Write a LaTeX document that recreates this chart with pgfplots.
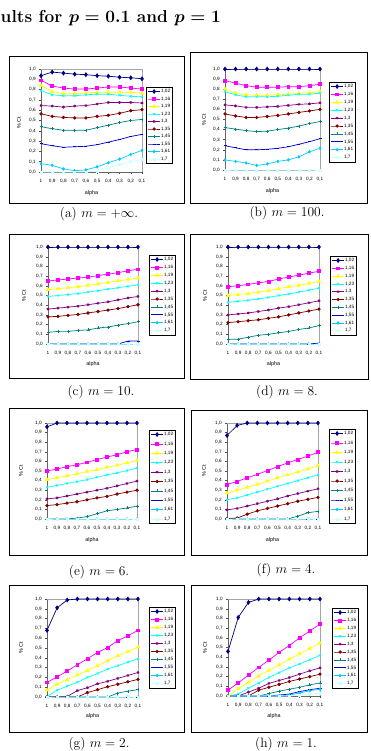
\RequirePackage{fix-cm}
\documentclass[border=0pt]{standalone}
\usepackage{fontspec}
\usepackage{pgfplots}
\usepackage{pgfplotstable}
\pgfplotsset{compat=1.18}
\newfontfamily\xlfont{Liberation Sans}
\newcommand\xlsmall{\xlfont\fontsize{4.7}{5.5}\selectfont}
\newcommand\xllabel{\xlfont\fontsize{5.4}{6}\selectfont}

% series colours (spreadsheet default palette)
\definecolor{s1}{HTML}{000080}
\definecolor{s2}{HTML}{FF00FF}
\definecolor{s3}{HTML}{FFFF00}
\definecolor{s4}{HTML}{00FFFF}
\definecolor{s5}{HTML}{800080}
\definecolor{s6}{HTML}{800000}
\definecolor{s7}{HTML}{008080}
\definecolor{s8}{HTML}{0000CC}
\definecolor{s9}{HTML}{00CCFF}
\definecolor{s10}{HTML}{CCFFFF}

% share of C_t for alpha = 1, 0.9, ..., 0.1 (rows) and each threshold (columns)
\pgfplotstableread{
i s1    s2    s3    s4    s5    s6    s7    s8    s9    s10
0 0.935 0.89  0.84  0.79  0.645 0.565 0.44  0.275 0.08  0.00
1 0.970 0.835 0.78  0.75  0.64  0.54  0.42  0.255 0.065 0.00
2 0.960 0.815 0.76  0.74  0.63  0.53  0.405 0.24  0.03  0.00
3 0.950 0.805 0.76  0.74  0.64  0.525 0.405 0.245 0.013 0.00
4 0.945 0.805 0.765 0.75  0.645 0.525 0.405 0.25  0.02  0.00
5 0.935 0.815 0.775 0.755 0.66  0.54  0.43  0.265 0.05  0.01
6 0.930 0.825 0.775 0.755 0.675 0.55  0.455 0.29  0.09  0.04
7 0.920 0.825 0.775 0.745 0.675 0.57  0.48  0.315 0.125 0.07
8 0.915 0.815 0.775 0.735 0.675 0.595 0.50  0.345 0.17  0.10
9 0.905 0.805 0.765 0.73  0.67  0.605 0.51  0.365 0.21  0.12
}\tabA
\pgfplotstableread{
i s1 s2    s3    s4    s5    s6    s7    s8    s9    s10
0 1  0.885 0.80  0.775 0.645 0.555 0.42  0.24  0.10  0
1 1  0.86  0.76  0.745 0.635 0.535 0.405 0.22  0.085 0
2 1  0.835 0.745 0.725 0.62  0.52  0.39  0.20  0.07  0
3 1  0.82  0.74  0.725 0.62  0.52  0.38  0.20  0.045 0
4 1  0.82  0.74  0.725 0.625 0.53  0.385 0.205 0.06  0
5 1  0.82  0.745 0.73  0.63  0.54  0.40  0.215 0.085 0
6 1  0.825 0.75  0.74  0.64  0.555 0.415 0.23  0.10  0
7 1  0.825 0.76  0.75  0.65  0.57  0.435 0.255 0.13  0
8 1  0.835 0.765 0.75  0.655 0.585 0.46  0.28  0.18  0
9 1  0.85  0.775 0.76  0.665 0.60  0.48  0.31  0.215 0
}\tabB
\pgfplotstableread{
i s1 s2    s3    s4    s5    s6    s7    s8   s9 s10
0 1  0.65  0.56  0.49  0.36  0.28  0.12  0    0  0
1 1  0.66  0.57  0.50  0.37  0.285 0.13  0    0  0
2 1  0.67  0.58  0.51  0.38  0.295 0.13  0    0  0
3 1  0.68  0.59  0.52  0.39  0.305 0.14  0    0  0
4 1  0.69  0.605 0.535 0.405 0.32  0.145 0    0  0
5 1  0.705 0.62  0.55  0.42  0.335 0.165 0    0  0
6 1  0.72  0.635 0.565 0.435 0.35  0.175 0    0  0
7 1  0.735 0.65  0.58  0.455 0.365 0.195 0    0  0
8 1  0.755 0.665 0.595 0.475 0.385 0.21  0.03 0  0
9 1  0.77  0.68  0.61  0.49  0.405 0.23  0.03 0  0
}\tabC
\pgfplotstableread{
i s1 s2    s3    s4    s5    s6    s7    s8   s9 s10
0 1  0.59  0.50  0.43  0.30  0.22  0.05  0    0  0
1 1  0.60  0.51  0.44  0.31  0.23  0.05  0    0  0
2 1  0.615 0.52  0.45  0.32  0.24  0.07  0    0  0
3 1  0.63  0.535 0.465 0.335 0.25  0.09  0    0  0
4 1  0.645 0.55  0.48  0.35  0.265 0.10  0    0  0
5 1  0.67  0.57  0.50  0.37  0.28  0.115 0    0  0
6 1  0.69  0.59  0.515 0.385 0.30  0.13  0    0  0
7 1  0.71  0.605 0.535 0.405 0.32  0.15  0    0  0
8 1  0.73  0.625 0.555 0.425 0.34  0.165 0    0  0
9 1  0.75  0.645 0.575 0.445 0.36  0.19  0.01 0  0
}\tabD
\pgfplotstableread{
i s1   s2    s3    s4    s5    s6    s7    s8 s9 s10
0 0.96 0.50  0.41  0.33  0.21  0.14  0     0  0  0
1 1    0.52  0.43  0.35  0.22  0.15  0     0  0  0
2 1    0.545 0.45  0.37  0.24  0.165 0     0  0  0
3 1    0.565 0.47  0.39  0.26  0.18  0.01  0  0  0
4 1    0.59  0.495 0.41  0.28  0.20  0.025 0  0  0
5 1    0.62  0.515 0.435 0.30  0.22  0.055 0  0  0
6 1    0.645 0.54  0.46  0.32  0.235 0.085 0  0  0
7 1    0.67  0.56  0.48  0.345 0.26  0.10  0  0  0
8 1    0.70  0.585 0.505 0.37  0.28  0.115 0  0  0
9 1    0.725 0.61  0.53  0.395 0.30  0.135 0  0  0
}\tabE
\pgfplotstableread{
i s1    s2    s3    s4    s5    s6    s7    s8 s9 s10
0 0.87  0.36  0.27  0.20  0.095 0.005 0     0  0  0
1 0.975 0.39  0.30  0.22  0.11  0.01  0     0  0  0
2 1     0.43  0.33  0.25  0.135 0.05  0     0  0  0
3 1     0.465 0.36  0.28  0.16  0.085 0     0  0  0
4 1     0.505 0.395 0.31  0.185 0.11  0     0  0  0
5 1     0.545 0.43  0.34  0.21  0.135 0     0  0  0
6 1     0.585 0.46  0.37  0.24  0.16  0     0  0  0
7 1     0.62  0.49  0.40  0.265 0.185 0.03  0  0  0
8 1     0.655 0.52  0.43  0.29  0.205 0.065 0  0  0
9 1     0.695 0.555 0.46  0.315 0.225 0.08  0  0  0
}\tabF
\pgfplotstableread{
i s1   s2    s3    s4    s5    s6    s7    s8 s9 s10
0 0.68 0.15  0.07  0.005 0     0     0     0  0  0
1 0.91 0.205 0.13  0.07  0     0     0     0  0  0
2 0.99 0.265 0.175 0.11  0.005 0     0     0  0  0
3 1    0.33  0.225 0.15  0.065 0     0     0  0  0
4 1    0.39  0.27  0.20  0.095 0.045 0     0  0  0
5 1    0.455 0.32  0.24  0.135 0.075 0     0  0  0
6 1    0.505 0.37  0.285 0.16  0.105 0     0  0  0
7 1    0.575 0.42  0.32  0.19  0.13  0.04  0  0  0
8 1    0.625 0.465 0.355 0.22  0.155 0.06  0  0  0
9 1    0.68  0.51  0.39  0.25  0.18  0.075 0  0  0
}\tabG
\pgfplotstableread{
i s1    s2    s3    s4    s5    s6    s7    s8    s9    s10
0 0.46  0.06  0     0     0     0     0     0     0     0
1 0.81  0.135 0.075 0.02  0     0     0     0     0     0
2 0.965 0.215 0.14  0.08  0.04  0     0     0     0     0
3 1     0.295 0.205 0.135 0.08  0.06  0     0     0     0
4 1     0.37  0.265 0.19  0.13  0.09  0.025 0     0     0
5 1     0.45  0.32  0.24  0.16  0.12  0.05  0.01  0     0
6 1     0.52  0.38  0.29  0.19  0.15  0.07  0.02  0.01  0
7 1     0.60  0.435 0.33  0.225 0.175 0.09  0.045 0.03  0.01
8 1     0.67  0.49  0.375 0.26  0.20  0.115 0.065 0.055 0.02
9 1     0.74  0.545 0.42  0.29  0.225 0.135 0.08  0.07  0.03
}\tabH

\pgfplotscreateplotcyclelist{xl}{
  {s1, mark=diamond*, mark size=1.9pt},
  {s2, mark=square*, mark size=1.45pt},
  {s3, mark=triangle*, mark size=1.8pt},
  {s4, mark=x, mark size=1.4pt},
  {s5, mark=asterisk, mark size=1.4pt},
  {s6, mark=*, mark size=1.3pt},
  {s7, mark=+, mark size=1.5pt},
  {s8, mark=-, mark size=1.5pt},
  {s9, mark=diamond*, mark size=1.3pt},
  {s10, mark=square*, mark size=1.0pt}%
}

\pgfplotsset{
  xlpanel/.style={
    scale only axis, anchor=south west, clip=false,
    xmin=0, xmax=9, ymin=0, ymax=1,
    axis x line*=bottom, axis y line*=left,
    axis line style={black!60, line width=0.5pt, -},
    xtick={0,1,2,3,4,5,6,7,8,9},
    xticklabels={1,{0,9},{0,8},{0,7},{0,6},{0,5},{0,4},{0,3},{0,2},{0,1}},
    ytick={0,0.1,0.2,0.3,0.4,0.5,0.6,0.7,0.8,0.9,1},
    yticklabels={{0,0},{0,1},{0,2},{0,3},{0,4},{0,5},{0,6},{0,7},{0,8},{0,9},{1,0}},
    tick align=outside, major tick length=2pt,
    tick style={black!70, line width=0.4pt},
    ticklabel style={font=\xlsmall},
    xticklabel style={yshift=-1.5pt},
    yticklabel style={xshift=0.3pt},
    cycle list name=xl,
    every axis plot/.append style={line width=0.7pt},
    every mark/.append style={solid},
    legend image code/.code={%
      \draw[mark repeat=2, mark phase=2, ##1] plot coordinates {(0pt,0pt) (6pt,0pt) (12pt,0pt)};},
    legend style={at={(1,1)}, anchor=north west, font=\xlsmall,
      draw=black, line width=0.5pt, inner sep=1.5pt,
      cells={anchor=west},
      nodes={inner sep=0.6pt, text height=3.4pt, text depth=0.9pt}},
    legend entries={{1,02},{1,16},{1,19},{1,23},{1,3},{1,35},{1,45},{1,55},{1,61},{1,7}},
  }
}

% #1 left, #2 bottom, #3 width, #4 height of the plot area;
% #5, #6 legend offset from the plot's top right corner; #7 legend row gap; #8 data
\newcommand\xlchart[8]{%
  \begin{axis}[xlpanel, at={(#1pt,-#2pt)}, width=#3pt, height=#4pt,
      legend style={xshift=#5pt, yshift=-#6pt, row sep=#7pt}]
    \draw[gray!70, line width=0.4pt] (rel axis cs:0,1) -- (rel axis cs:1,1) -- (rel axis cs:1,0);
    \pgfplotsinvokeforeach{1,...,10}{%
      \addplot table[x index=0, y index=##1] {#8};}
  \end{axis}}

\tikzset{
  panelframe/.style={draw=black, line width=0.7pt},
  ylab/.style={rotate=90, font=\xllabel, inner sep=0pt},
  xlab/.style={font=\xllabel, inner sep=0pt},
  subcap/.style={anchor=base, inner sep=0pt, font=\fontsize{13.5}{16}\selectfont},
}

\begin{document}
\begin{tikzpicture}
\useasboundingbox (0pt,0pt) rectangle (371pt,-751pt);

\node[anchor=base west, inner sep=0pt, font=\fontsize{17.3}{20}\selectfont\bfseries\boldmath]
  at (0.5pt,-23pt) {ults for $p = 0.1$ and $p = 1$};

% (a)
\path[panelframe] (9pt,-56pt) rectangle (184pt,-203pt);
\xlchart{41}{172}{101}{103}{4}{18}{2.0}{\tabA}
\node[ylab] at (19pt,-123pt) {\% Ct};
\node[xlab] at (91.5pt,-193pt) {alpha};
\node[subcap] at (99pt,-218pt) {(a) $m = +\infty$.};

% (b)
\path[panelframe] (190pt,-52pt) rectangle (367pt,-203pt);
\xlchart{225}{170}{95}{101}{9}{13}{2.4}{\tabB}
\node[ylab] at (204pt,-120pt) {\% Ct};
\node[xlab] at (272.5pt,-191pt) {alpha};
\node[subcap] at (287pt,-217pt) {(b) $m = 100$.};

% (c)
\path[panelframe] (9pt,-234pt) rectangle (184pt,-378pt);
\xlchart{48}{344}{90}{97}{11}{8}{2.4}{\tabC}
\node[ylab] at (24pt,-295.5pt) {\% Ct};
\node[xlab] at (93pt,-364pt) {alpha};
\node[subcap] at (101pt,-395pt) {(c) $m = 10$.};

% (d)
\path[panelframe] (190pt,-234pt) rectangle (368pt,-379pt);
\xlchart{228}{344}{91}{97}{11}{9}{2.3}{\tabD}
\node[ylab] at (205pt,-295.5pt) {\% Ct};
\node[xlab] at (273.5pt,-364pt) {alpha};
\node[subcap] at (287pt,-395pt) {(d) $m = 8$.};

% (e)
\path[panelframe] (9pt,-408pt) rectangle (184pt,-555pt);
\xlchart{47}{519}{90}{96}{12}{7}{3.9}{\tabE}
\node[ylab] at (21pt,-471pt) {\% Ct};
\node[xlab] at (92pt,-540pt) {alpha};
\node[subcap] at (99pt,-575pt) {(e) $m = 6$.};

% (f)
\path[panelframe] (191pt,-410pt) rectangle (367pt,-555pt);
\xlchart{227}{519}{91}{96}{11}{6}{4.0}{\tabF}
\node[ylab] at (204pt,-471pt) {\% Ct};
\node[xlab] at (272.5pt,-540pt) {alpha};
\node[subcap] at (286pt,-573pt) {(f) $m = 4$.};

% (g)
\path[panelframe] (9pt,-585pt) rectangle (184pt,-732pt);
\xlchart{47}{697}{91}{98}{11}{8}{2.5}{\tabG}
\node[ylab] at (21pt,-648pt) {\% Ct};
\node[xlab] at (92.5pt,-716pt) {alpha};
\node[subcap] at (99pt,-747pt) {(g) $m = 2$.};

% (h)
\path[panelframe] (191pt,-585pt) rectangle (367pt,-732pt);
\xlchart{228}{696}{92}{97}{12}{9}{2.4}{\tabH}
\node[ylab] at (205pt,-647.5pt) {\% Ct};
\node[xlab] at (274pt,-716pt) {alpha};
\node[subcap] at (286pt,-747pt) {(h) $m = 1$.};
\end{tikzpicture}
\end{document}
